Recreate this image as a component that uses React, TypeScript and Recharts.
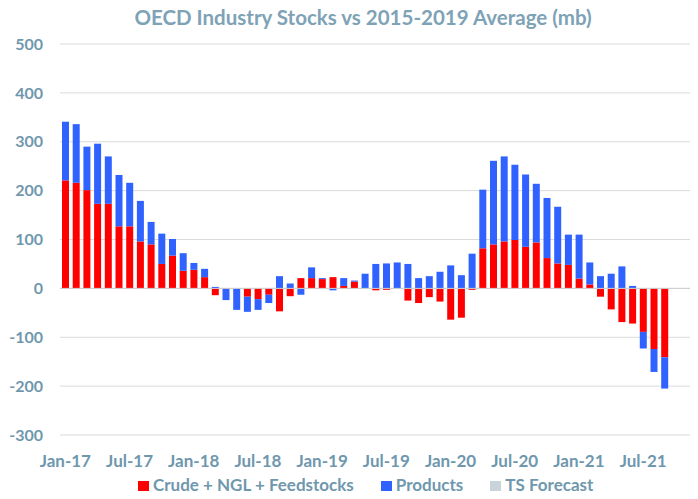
import React from "react";
import {
  BarChart,
  Bar,
  XAxis,
  YAxis,
  CartesianGrid,
  ReferenceLine,
} from "recharts";

const months = [
  "Jan-17", "Feb-17", "Mar-17", "Apr-17", "May-17", "Jun-17", "Jul-17", "Aug-17", "Sep-17", "Oct-17", "Nov-17", "Dec-17",
  "Jan-18", "Feb-18", "Mar-18", "Apr-18", "May-18", "Jun-18", "Jul-18", "Aug-18", "Sep-18", "Oct-18", "Nov-18", "Dec-18",
  "Jan-19", "Feb-19", "Mar-19", "Apr-19", "May-19", "Jun-19", "Jul-19", "Aug-19", "Sep-19", "Oct-19", "Nov-19", "Dec-19",
  "Jan-20", "Feb-20", "Mar-20", "Apr-20", "May-20", "Jun-20", "Jul-20", "Aug-20", "Sep-20", "Oct-20", "Nov-20", "Dec-20",
  "Jan-21", "Feb-21", "Mar-21", "Apr-21", "May-21", "Jun-21", "Jul-21", "Aug-21", "Sep-21", "Oct-21", "Nov-21", "Dec-21",
];

// crude + NGL + feedstocks, mb vs 5y average
const crude = [
  221, 216, 201, 173, 173, 127, 127, 96, 90, 50, 67, 36,
  38, 23, -14, -1, 0, -17, -22, -13, -47, -16, 21, 21,
  19, 23, 5, 14, 0, -4, -3, 0, -25, -30, -18, -27,
  -64, -60, -3, 82, 90, 96, 99, 85, 94, 62, 51, 48,
  20, 8, -17, -43, -69, -72, -89, -124, -141,
];

const products = [
  120, 120, 89, 123, 97, 105, 89, 83, 46, 62, 34, 36,
  14, 17, 3, -23, -44, -31, -22, -17, 25, 10, -13, 22,
  2, -4, 16, 2, 30, 50, 51, 53, 50, 21, 25, 34,
  47, 27, 71, 120, 171, 174, 154, 148, 120, 123, 116, 62,
  90, 45, 25, 30, 45, 5, -34, -47, -64,
];

const yTicks = [-300, -200, -100, 0, 100, 200, 300, 400, 500];

const series = [
  { key: "crude", name: "Crude + NGL + Feedstocks", color: "#ff0000" },
  { key: "products", name: "Products", color: "#2f62ff" },
  { key: "forecast", name: "TS Forecast", color: "#c8d3da" },
];

const data = months.map((m, i) => ({
  month: m,
  crude: crude[i] ?? null,
  products: products[i] ?? null,
  forecast: null,
}));

const FONT = "Lato, 'Open Sans', sans-serif";
const AXIS_COLOR = "#6f97ad";

function ChartLegend() {
  return (
    <ul
      style={{
        position: "absolute",
        top: 475,
        left: 138,
        display: "flex",
        gap: 27,
        margin: 0,
        padding: 0,
        listStyle: "none",
        height: 20,
        lineHeight: "20px",
        fontFamily: FONT,
        fontSize: 17,
        fontWeight: 700,
        color: AXIS_COLOR,
        whiteSpace: "nowrap",
      }}
    >
      {series.map((s) => (
        <li key={s.key} style={{ display: "flex", alignItems: "center", gap: 4 }}>
          <span style={{ width: 11, height: 11, marginTop: 3, background: s.color, display: "inline-block" }} />
          <span>{s.name}</span>
        </li>
      ))}
    </ul>
  );
}

export default function App() {
  return (
    <div style={{ margin: -8, width: 698, height: 499, overflow: "hidden", position: "relative", background: "#fff" }}>
      <div
        style={{
          position: "absolute",
          top: 5,
          left: 0,
          width: 726,
          textAlign: "center",
          fontFamily: FONT,
          fontWeight: 700,
          fontSize: 20.5,
          color: "#7ea2b6",
          zIndex: 1,
        }}
      >
        OECD Industry Stocks vs 2015-2019 Average (mb)
      </div>
      <BarChart
        width={702}
        height={499}
        data={data}
        stackOffset="sign"
        margin={{ top: 44, right: 0, left: 0, bottom: 26 }}
      >
        <CartesianGrid vertical={false} stroke="#dadada" />
        <XAxis
          dataKey="month"
          interval={5}
          tickLine={false}
          axisLine={false}
          height={38}
          tickMargin={14}
          tick={{ fill: AXIS_COLOR, fontSize: 17, fontWeight: 700, fontFamily: FONT }}
        />
        <YAxis
          width={60}
          domain={[-300, 500]}
          ticks={yTicks}
          tickLine={false}
          axisLine={false}
          tickMargin={11}
          tick={{ fill: AXIS_COLOR, fontSize: 16, fontWeight: 700, fontFamily: FONT }}
        />
        <ReferenceLine y={0} stroke="#cfcfcf" />
        {series.map((s) => (
          <Bar
            key={s.key}
            dataKey={s.key}
            name={s.name}
            stackId="s"
            fill={s.color}
            barSize={7}
            isAnimationActive={false}
          />
        ))}
      </BarChart>
      <ChartLegend />
    </div>
  );
}
